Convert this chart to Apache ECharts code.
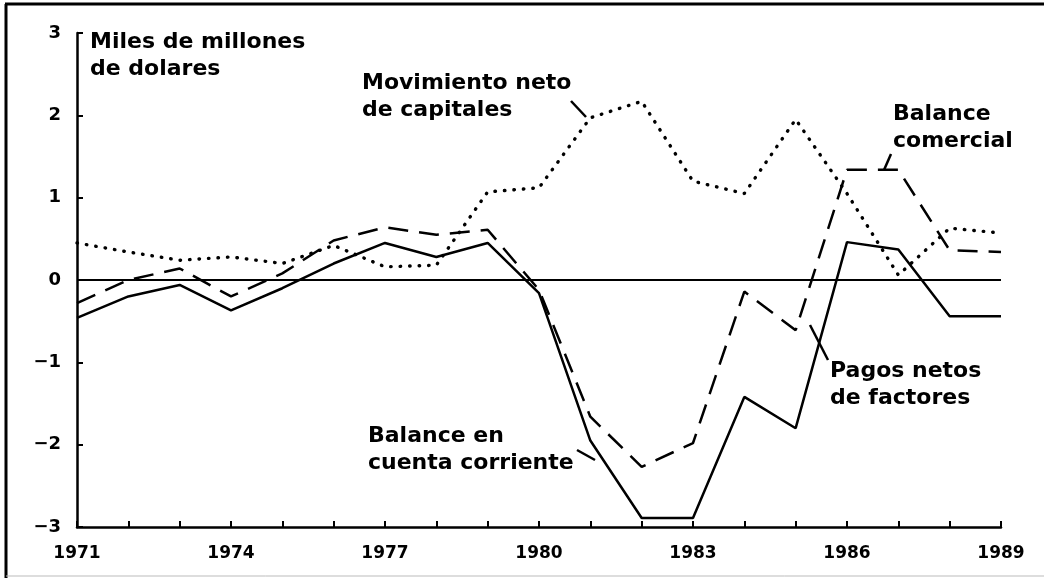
<!DOCTYPE html>
<html>
<head>
<meta charset="utf-8">
<script src="https://cdn.jsdelivr.net/npm/echarts@6/dist/echarts.min.js"></script>
<style>
  html, body { margin: 0; padding: 0; background: #fff; }
  #chart { width: 1044px; height: 578px; }
</style>
</head>
<body>
<div id="chart"></div>
<script>
// años del eje x
var years = ['1971', '1972', '1973', '1974', '1975', '1976', '1977', '1978', '1979', '1980',
             '1981', '1982', '1983', '1984', '1985', '1986', '1987', '1988', '1989'];

// Balance en cuenta corriente (linea continua)
var cuentaCorriente = [-0.46, -0.2, -0.06, -0.37, -0.1, 0.2, 0.45, 0.28, 0.45, -0.16,
                       -1.95, -2.89, -2.89, -1.42, -1.8, 0.46, 0.37, -0.44, -0.44];
// Balance comercial (linea de trazos)
var comercial = [-0.28, 0.0, 0.14, -0.2, 0.08, 0.48, 0.64, 0.55, 0.61, -0.12,
                 -1.66, -2.27, -1.98, -0.14, -0.61, 1.34, 1.34, 0.36, 0.34];
// Movimiento neto de capitales (linea de puntos)
var capitales = [0.45, 0.34, 0.24, 0.28, 0.2, 0.42, 0.16, 0.18, 1.07, 1.12,
                 1.97, 2.17, 1.2, 1.05, 1.95, 1.05, 0.06, 0.63, 0.57];

var yTicks = { min: -3, max: 3, interval: 1 };

var font = 'DejaVu Sans';
var chart = echarts.init(document.getElementById('chart'));

function nota(x, y, txt) {
    return {
        type: 'text', left: x, top: y,
        style: { text: txt, font: 'bold 22px "' + font + '"', lineHeight: 27, fill: '#000' }
    };
}
function guia(x1, y1, x2, y2) {
    return {
        type: 'line',
        shape: { x1: x1, y1: y1, x2: x2, y2: y2 },
        style: { stroke: '#000', lineWidth: 2.5 }
    };
}

var option = {
    animation: false,
    backgroundColor: '#fff',
    grid: { left: 77, right: 43, top: 33, bottom: 51 },
    xAxis: {
        type: 'category',
        data: years,
        boundaryGap: false,
        axisLine: { onZero: false, lineStyle: { color: '#000', width: 2.5 } },
        axisTick: { inside: true, length: 6, interval: 0, lineStyle: { color: '#000', width: 2 } },
        axisLabel: {
            interval: 2, margin: 18, color: '#000',
            fontFamily: font, fontWeight: 'bold', fontSize: 17
        },
        splitLine: { show: false }
    },
    yAxis: {
        type: 'value',
        min: yTicks.min, max: yTicks.max, interval: yTicks.interval,
        axisLine: { show: true, lineStyle: { color: '#000', width: 2.5 } },
        axisTick: { show: true, inside: true, length: 6, lineStyle: { color: '#000', width: 2 } },
        axisLabel: {
            margin: 16, color: '#000',
            fontFamily: font, fontWeight: 'bold', fontSize: 18,
            formatter: function (v) { return v < 0 ? '\u2212' + Math.abs(v) : String(v); }
        },
        splitLine: { show: false }
    },
    series: [
        {
            name: 'Balance en cuenta corriente',
            type: 'line',
            data: cuentaCorriente,
            symbol: 'none',
            lineStyle: { color: '#000', width: 2.5 },
            markLine: {
                silent: true, symbol: 'none', label: { show: false },
                lineStyle: { color: '#000', type: 'solid', width: 2 },
                data: [{ yAxis: 0 }]
            },
            z: 3
        },
        {
            name: 'Balance comercial',
            type: 'line',
            data: comercial,
            symbol: 'none',
            lineStyle: { color: '#000', width: 2.5, type: [20, 11] },
            z: 2
        },
        {
            name: 'Movimiento neto de capitales',
            type: 'line',
            data: capitales,
            symbol: 'none',
            lineStyle: { color: '#000', width: 3.4, type: [0.5, 9], cap: 'round' },
            z: 1
        }
    ],
    graphic: [
        // marco
        { type: 'line', shape: { x1: 5, y1: 4, x2: 1044, y2: 4 }, style: { stroke: '#000', lineWidth: 3 } },
        { type: 'line', shape: { x1: 6, y1: 4, x2: 6, y2: 578 }, style: { stroke: '#000', lineWidth: 3 } },
        { type: 'line', shape: { x1: 6, y1: 576, x2: 1044, y2: 576 }, style: { stroke: '#bbb', lineWidth: 1 } },
        // textos
        nota(90, 29, 'Miles de millones\nde dolares'),
        nota(362, 70, 'Movimiento neto\nde capitales'),
        nota(893, 101, 'Balance\ncomercial'),
        nota(368, 423, 'Balance en\ncuenta corriente'),
        nota(830, 358, 'Pagos netos\nde factores'),
        // guias
        guia(571, 101, 586, 117),
        guia(891, 154, 884, 170),
        guia(577, 450, 595, 460),
        guia(810, 325, 828, 360)
    ]
};

chart.setOption(option);
</script>
</body>
</html>
